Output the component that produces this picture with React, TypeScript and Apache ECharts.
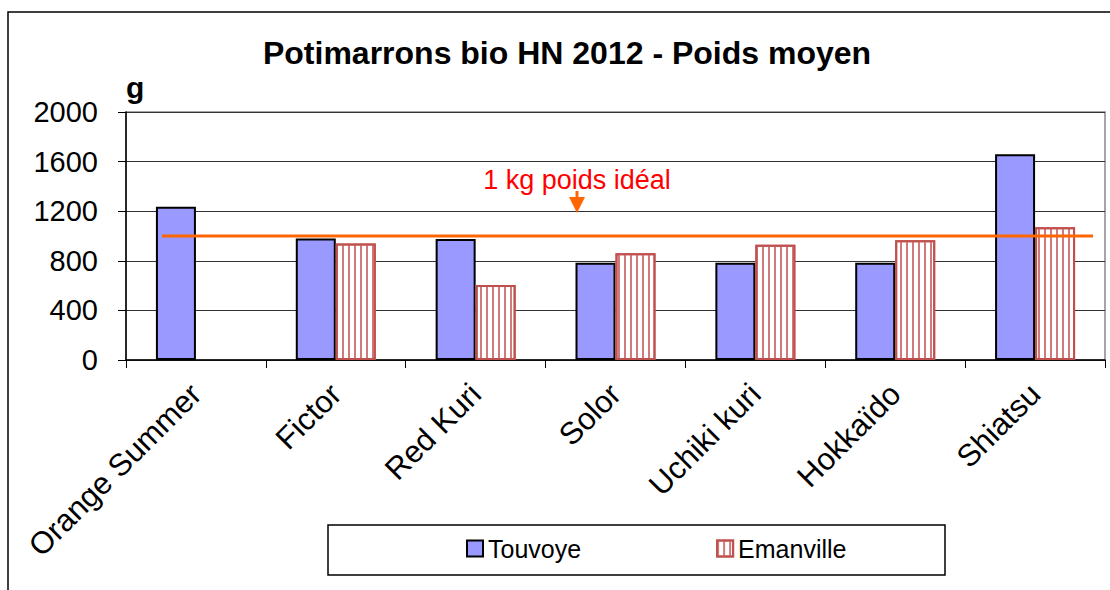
import React, { useEffect, useRef } from "react";
import * as echarts from "echarts";

const categories = ["Orange Summer", "Fictor", "Red Kuri", "Solor", "Uchiki kuri", "Hokkaïdo", "Shiatsu"];
const seriesNames = ["Touvoye", "Emanville"];
const touvoye = [1235, 980, 975, 785, 785, 785, 1660];
const emanville: (number | null)[] = [null, 940, 605, 860, 930, 965, 1070];
const yMin = 0;
const yMax = 2000;
const yInterval = 400;
const idealWeight = 1000;
const idealLabel = "1 kg poids idéal";
const chartTitle = "Potimarrons bio HN 2012 - Poids moyen";
const unitLabel = "g";

const FONT = "'Liberation Sans', Arial, sans-serif";

export default function App() {
  const ref = useRef<HTMLDivElement>(null);
  useEffect(() => {
    if (!ref.current) return;
    const chart = echarts.init(ref.current, null, { renderer: "svg" });
    chart.setOption({
      animation: false,
      backgroundColor: "#ffffff",
      textStyle: { fontFamily: FONT },
      title: {
        text: chartTitle,
        left: 567,
        top: 37,
        textAlign: "center",
        padding: 0,
        textStyle: { fontSize: 32, fontWeight: "bold", color: "#000", fontFamily: FONT },
      },
      legend: {
        data: seriesNames,
        left: 466,
        top: 536,
        padding: 0,
        itemWidth: 16,
        itemHeight: 16,
        itemGap: 135,
        icon: "rect",
        textStyle: { fontSize: 25, color: "#000", fontFamily: FONT },
      },
      grid: {
        left: 126,
        right: 5,
        top: 112,
        bottom: 230,
        show: true,
        borderColor: "#888",
        borderWidth: 1.5,
        containLabel: false,
      },
      xAxis: {
        type: "category",
        data: categories,
        boundaryGap: true,
        axisLine: { show: true, lineStyle: { color: "#000", width: 1.5 } },
        axisTick: { show: true, length: 8, inside: false, lineStyle: { color: "#000", width: 1 } },
        axisLabel: {
          interval: 0,
          rotate: 45,
          margin: 29,
          fontSize: 31,
          color: "#000",
          fontFamily: FONT,
        },
        splitLine: { show: false },
      },
      yAxis: {
        type: "value",
        min: yMin,
        max: yMax,
        interval: yInterval,
        name: unitLabel,
        nameLocation: "end",
        nameGap: 10,
        nameTextStyle: {
          fontSize: 30,
          fontWeight: "bold",
          color: "#000",
          align: "left",
          verticalAlign: "bottom",
          fontFamily: FONT,
        },
        axisLine: { show: true, lineStyle: { color: "#000", width: 1.5 } },
        axisTick: { show: true, length: 8, inside: false, lineStyle: { color: "#000", width: 1 } },
        axisLabel: {
          fontSize: 29,
          color: "#000",
          margin: 28,
          fontFamily: FONT,
          formatter: (v: number) => String(v),
        },
        splitLine: { show: true, lineStyle: { color: "#333", width: 1 } },
      },
      series: [
        {
          name: seriesNames[0],
          type: "bar",
          data: touvoye,
          barWidth: 40,
          barGap: "0%",
          itemStyle: { color: "#9999ff", borderColor: "#000", borderWidth: 2 },
        },
        {
          name: seriesNames[1],
          type: "bar",
          data: emanville,
          barWidth: 40,
          barGap: "0%",
          itemStyle: {
            color: "#ffffff",
            borderColor: "#c0504d",
            borderWidth: 2,
            decal: {
              symbol: "rect",
              symbolSize: 1,
              color: "#d07a7c",
              dashArrayX: [1.5, 3.5],
              dashArrayY: [6, 0],
              rotation: 0,
            },
          },
        },
      ],
    });

    const y = chart.convertToPixel({ yAxisIndex: 0 }, idealWeight) as number;
    const gridLeft = 126;
    const gridRight = 1110 - 5;
    chart.setOption({
      graphic: [
        {
          type: "rect",
          silent: true,
          z: 100,
          shape: { x: 8, y: 12, width: 1200, height: 700 },
          style: { fill: "none", stroke: "#000", lineWidth: 1.5 },
        },
        {
          type: "rect",
          silent: true,
          z: 100,
          shape: { x: 328, y: 525, width: 617, height: 50 },
          style: { fill: "none", stroke: "#000", lineWidth: 1.5 },
        },
        {
          type: "line",
          silent: true,
          z: 100,
          shape: { x1: gridLeft + 36, y1: y, x2: gridRight - 12, y2: y },
          style: { stroke: "#ff6600", lineWidth: 3 },
        },
        {
          type: "text",
          silent: true,
          z: 100,
          x: 577,
          y: 180,
          style: {
            text: idealLabel,
            fill: "#ff0000",
            fontSize: 27,
            fontFamily: FONT,
            align: "center",
            verticalAlign: "middle",
          },
        },
        {
          type: "line",
          silent: true,
          z: 100,
          shape: { x1: 577, y1: 191, x2: 577, y2: 199 },
          style: { stroke: "#ff6600", lineWidth: 3 },
        },
        {
          type: "polygon",
          silent: true,
          z: 100,
          shape: { points: [[569, 197], [585, 197], [577, 213]] },
          style: { fill: "#ff6600" },
        },
      ],
    });

    return () => chart.dispose();
  }, []);
  return (
    <div
      ref={ref}
      style={{ position: "fixed", left: 0, top: 0, width: 1110, height: 590, background: "#fff" }}
    />
  );
}
